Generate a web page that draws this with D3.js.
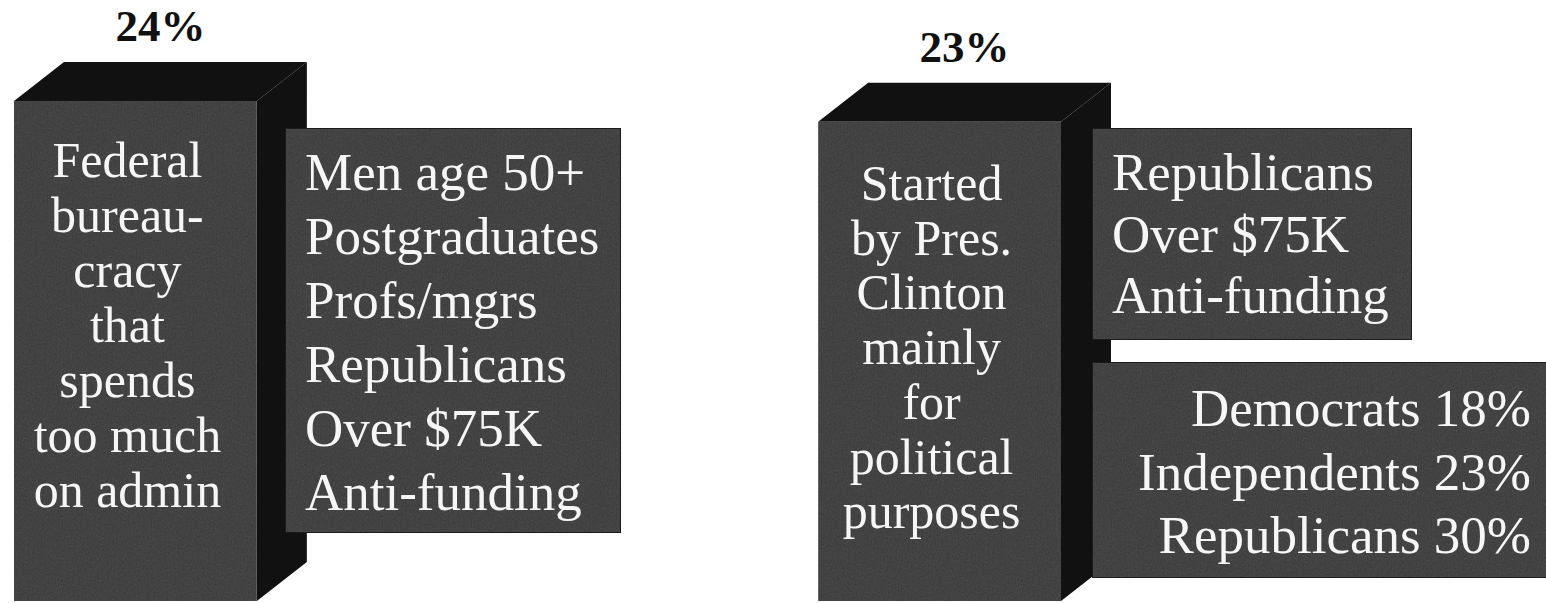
<!DOCTYPE html>
<html>
<head>
<meta charset="utf-8">
<script src="https://cdn.jsdelivr.net/npm/d3@7"></script>
<style>
  html, body { margin: 0; padding: 0; background: #ffffff; }
  svg { display: block; }
  text { font-family: "Liberation Serif", "Times New Roman", serif; }
</style>
</head>
<body>
<script>
// Share of respondents naming each reason
const categories = ["Federal bureaucracy", "Started by Pres. Clinton"];
const values = [24, 23];
const valueLabels = ["24%", "23%"];

// Wording printed on the front of each bar
const barLines = [
  ["Federal", "bureau-", "cracy", "that", "spends", "too much", "on admin"],
  ["Started", "by Pres.", "Clinton", "mainly", "for", "political", "purposes"]
];

// Groups most likely to give each answer
const groupsFirst = ["Men age 50+", "Postgraduates", "Profs/mgrs", "Republicans", "Over $75K", "Anti-funding"];
const groupsSecond = ["Republicans", "Over $75K", "Anti-funding"];

// Breakdown by party for the second answer
const partyNames = ["Democrats", "Independents", "Republicans"];
const partyValues = [18, 23, 30];

const W = 1546, H = 603;
const faceFill = "#434343";
const darkFill = "#111111";
const textFill = "#f6f6f6";

const svg = d3.select("body").append("svg")
  .attr("width", W).attr("height", H);

// Fine grain for the printed faces
const defs = svg.append("defs");
const grain = defs.append("filter").attr("id", "grain")
  .attr("x", 0).attr("y", 0).attr("width", 1).attr("height", 1)
  .attr("color-interpolation-filters", "sRGB");
grain.append("feTurbulence").attr("type", "fractalNoise")
  .attr("baseFrequency", "0.8 0.5").attr("numOctaves", 2).attr("seed", 3).attr("result", "noise");
grain.append("feColorMatrix").attr("in", "noise").attr("type", "matrix")
  .attr("values", "0.33 0.33 0.33 0 0  0.33 0.33 0.33 0 0  0.33 0.33 0.33 0 0  0 0 0 0 1")
  .attr("result", "gnoise");
grain.append("feComposite").attr("in", "SourceGraphic").attr("in2", "gnoise")
  .attr("operator", "arithmetic").attr("k1", 0).attr("k2", 1).attr("k3", 0.16).attr("k4", -0.08)
  .attr("result", "mixed");
grain.append("feComposite").attr("in", "mixed").attr("in2", "SourceGraphic").attr("operator", "in");

// Scales
const x = d3.scaleBand().domain(categories).range([14, 1061]).paddingInner(0.698).paddingOuter(0);
const y = d3.scaleLinear().domain([0, 24]).range([601, 101]);
const depthX = 50, depthY = 39;

const bars = svg.append("g").selectAll("g.bar")
  .data(categories.map((c, i) => ({ c, v: values[i], label: valueLabels[i], lines: barLines[i] })))
  .join("g").attr("class", "bar");

// Top face
bars.append("path").attr("fill", darkFill).attr("d", d => {
  const x0 = x(d.c), x1 = x0 + x.bandwidth(), yt = y(d.v);
  return `M${x0},${yt}L${x0 + depthX},${yt - depthY}L${x1 + depthX},${yt - depthY}L${x1},${yt}Z`;
});
// Side face
bars.append("path").attr("fill", darkFill).attr("d", d => {
  const x1 = x(d.c) + x.bandwidth(), yt = y(d.v), yb = y(0);
  return `M${x1},${yt}L${x1 + depthX},${yt - depthY}L${x1 + depthX},${yb - depthY}L${x1},${yb}Z`;
});
// Front face
bars.append("rect")
  .attr("x", d => x(d.c)).attr("y", d => y(d.v))
  .attr("width", x.bandwidth()).attr("height", d => y(0) - y(d.v))
  .attr("fill", faceFill).attr("filter", "url(#grain)");

// Value above each bar
bars.append("text")
  .attr("x", d => x(d.c) + (x.bandwidth() + depthX) / 2)
  .attr("y", d => y(d.v) - depthY - 21)
  .attr("text-anchor", "middle")
  .attr("font-size", 45).attr("font-weight", "bold").attr("fill", "#111")
  .text(d => d.label);

// Wording on the bar front
bars.each(function (d) {
  const g = d3.select(this);
  const cx = x(d.c) + x.bandwidth() / 2 - 8;
  const first = d.c === categories[0] ? 177 : 200;
  const step = d.c === categories[0] ? 55 : 54.7;
  g.append("text")
    .attr("text-anchor", "middle").attr("font-size", 50).attr("fill", textFill)
    .selectAll("tspan").data(d.lines).join("tspan")
    .attr("x", cx).attr("y", (_, i) => first + i * step)
    .text(t => t);
});

// Side boxes listing groups
function box(x0, y0, w, h, lines, opts) {
  const g = svg.append("g");
  g.append("rect").attr("x", x0).attr("y", y0).attr("width", w).attr("height", h)
    .attr("fill", faceFill).attr("filter", "url(#grain)");
  g.append("rect").attr("x", x0 + 0.5).attr("y", y0 + 0.5).attr("width", w - 1).attr("height", h - 1)
    .attr("fill", "none").attr("stroke", "#1c1c1c").attr("stroke-width", 1);
  g.append("text")
    .attr("text-anchor", opts.anchor).attr("font-size", 53).attr("fill", textFill)
    .selectAll("tspan").data(lines).join("tspan")
    .attr("x", opts.tx).attr("y", (_, i) => opts.ty + i * opts.step)
    .text(t => t);
}

box(285, 128, 336, 405, groupsFirst, { anchor: "start", tx: 305, ty: 190, step: 64 });
box(1092, 128, 320, 212, groupsSecond, { anchor: "start", tx: 1112, ty: 190, step: 61.5 });
box(1092, 362, 460, 216,
  partyNames.map((n, i) => `${n} ${partyValues[i]}%`),
  { anchor: "end", tx: 1531, ty: 426, step: 63.5 });
</script>
</body>
</html>
